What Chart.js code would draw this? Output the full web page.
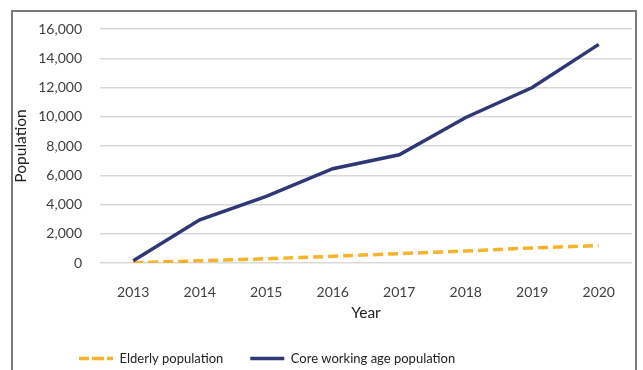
<!DOCTYPE html>
<html>
<head>
<meta charset="utf-8">
<script src="https://cdn.jsdelivr.net/npm/chart.js@4.4.0/dist/chart.umd.min.js"></script>
<style>
  body { margin: 0; background: #fff; }
  #wrap { position: relative; width: 643px; height: 370px; overflow: hidden; }
  #frame { position: absolute; left: 11px; top: 10px; width: 626px; height: 380px;
           border: 2px solid #7a7a7a; box-sizing: border-box; }
  canvas { position: absolute; left: 0; top: 0; }
</style>
</head>
<body>
<div id="wrap">
  <div id="frame"></div>
  <canvas id="popchart" width="643" height="370"></canvas>
</div>
<script>
// years on the x axis
var years = ['2013', '2014', '2015', '2016', '2017', '2018', '2019', '2020'];
// population counts per year
var elderly = [20, 150, 290, 460, 640, 820, 1030, 1190];
var coreWorking = [150, 2950, 4550, 6450, 7400, 9950, 12000, 14950];
// y axis range
var yMax = 16000;
var yStep = 2000;

var FONT = 'Lato, "Open Sans", sans-serif';
var TEXT = '#404040';

// legend sits left of centre, under the first half of the plot
var legendShift = {
  id: 'legendShift',
  beforeDraw: function(chart) {
    var lg = chart.legend;
    lg.left = 79 - lg.options.labels.padding;
    lg.top = 370 - 45;
  }
};

var ctx = document.getElementById('popchart');
var chart = new Chart(ctx, {
  type: 'line',
  data: {
    labels: years,
    datasets: [{
      label: 'Elderly population',
      data: elderly,
      borderColor: '#f7b32b',
      backgroundColor: '#f7b32b',
      borderWidth: 3.5,
      borderDash: [10, 5],
      pointRadius: 0,
      tension: 0,
      order: 2
    }, {
      label: 'Core working age population',
      data: coreWorking,
      borderColor: '#2e3876',
      backgroundColor: '#2e3876',
      borderWidth: 3.5,
      pointRadius: 0,
      tension: 0,
      order: 1
    }]
  },
  options: {
    responsive: false,
    animation: false,
    layout: { padding: { left: 12, right: 11, top: 29, bottom: 0 } },
    plugins: {
      tooltip: { enabled: false },
      legend: {
        position: 'bottom',
        align: 'start',
        maxHeight: 48,
        labels: {
          font: { family: FONT, size: 13 },
          color: '#222',
          boxWidth: 34,
          boxHeight: 0,
          padding: 27,
          sort: function(a, b) { return a.datasetIndex - b.datasetIndex; }
        }
      }
    },
    scales: {
      x: {
        offset: true,
        grid: { display: false },
        border: { display: false },
        ticks: { font: { family: FONT, size: 14 }, color: TEXT, padding: 13 },
        title: { display: true, text: 'Year', font: { family: FONT, size: 15.5 }, color: '#222', padding: { top: 0, bottom: 0 } },
        afterFit: function(scale) { scale.height = 59; }
      },
      y: {
        min: 0,
        max: yMax,
        grid: { color: '#d9d9d9', lineWidth: 1.5, drawTicks: false },
        border: { display: false },
        ticks: {
          stepSize: yStep,
          padding: 18,
          font: { family: FONT, size: 14 },
          color: TEXT,
          callback: function(v) { return v.toLocaleString('en-US'); }
        },
        title: { display: true, text: 'Population', font: { family: FONT, size: 15.5 }, color: '#222', padding: 0 },
        afterFit: function(scale) { scale.width = 88; }
      }
    }
  },
  plugins: [legendShift]
});
</script>
</body>
</html>
